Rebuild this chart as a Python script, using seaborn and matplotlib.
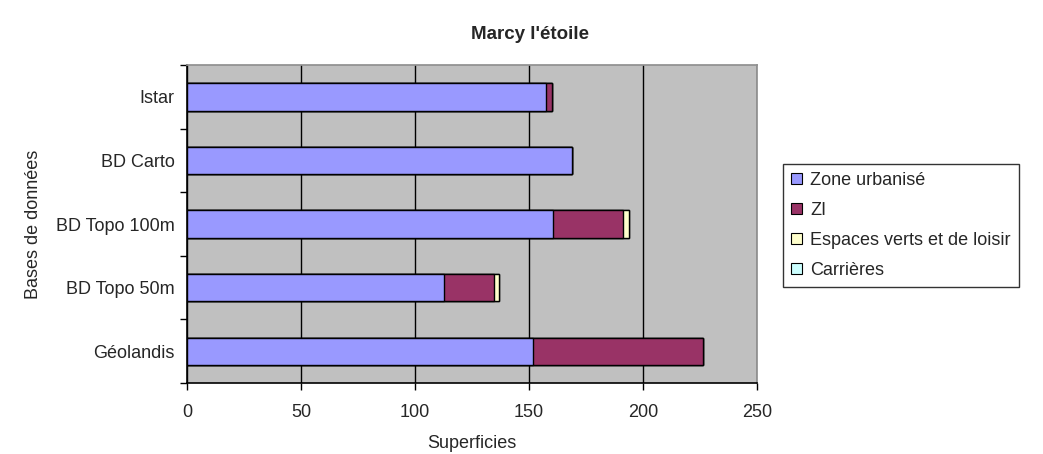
import matplotlib
matplotlib.use("Agg")
import matplotlib.pyplot as plt
import seaborn as sns
import pandas as pd
import numpy as np
from matplotlib.patches import Patch

categories = ["Istar", "BD Carto", "BD Topo 100m", "BD Topo 50m", "Géolandis"]
zone_urbanise = [157.4, 169.0, 160.6, 112.9, 151.8]
zi = [2.6, 0.0, 30.8, 21.9, 74.6]
espaces_verts = [0.0, 0.0, 2.5, 1.9, 0.0]
carrieres = [0.0, 0.0, 0.0, 0.0, 0.0]
series_names = ["Zone urbanisé", "ZI", "Espaces verts et de loisir", "Carrières"]
series_colors = ["#9999FF", "#993366", "#FFFFCC", "#CCFFFF"]
xticks = [0, 50, 100, 150, 200, 250]

sns.set_theme(style="white")
plt.rcParams['font.family'] = ['Liberation Sans', 'DejaVu Sans']
FS = 13

fig = plt.figure(figsize=(10.43, 4.54), dpi=100)
ax = fig.add_axes([0.1793, 0.1564, 0.5465, 0.700])

series = [zone_urbanise, zi, espaces_verts, carrieres]
cum = np.cumsum(np.array(series), axis=0)
df = pd.DataFrame({"cat": categories})
for i in range(len(series) - 1, -1, -1):
    df["v"] = cum[i]
    sns.barplot(data=df, x="v", y="cat", order=categories, orient="h",
                color=series_colors[i], saturation=1, width=0.43,
                edgecolor="black", linewidth=1.0, ax=ax, zorder=3)

ax.set_facecolor("#C0C0C0")
ax.set_xlim(0, 250)
ax.set_ylim(4.5, -0.5)
ax.set_xticks(xticks)
ax.set_xticklabels([str(t) for t in xticks], fontsize=FS)
ax.xaxis.grid(True, color="black", linewidth=1.0, zorder=0)
ax.yaxis.grid(False)
ax.set_axisbelow(True)
ax.tick_params(axis="x", direction="out", length=5, width=1, color="black", bottom=True, pad=10)
ax.tick_params(axis="y", which="major", length=0, labelsize=FS, pad=9)
ax.set_yticks(np.arange(-0.5, 5.0, 1.0), minor=True)
ax.tick_params(axis="y", which="minor", direction="out", length=5, width=1, color="black", left=True)

for s in ["left", "bottom"]:
    ax.spines[s].set_color("black")
    ax.spines[s].set_linewidth(1.2)
ax.spines["top"].set_color("#909090")
ax.spines["right"].set_color("#909090")

ax.set_xlabel("Superficies", fontsize=FS, labelpad=10)
ax.set_ylabel("Bases de données", fontsize=FS, labelpad=10)
fig.text(0.508, 0.925, "Marcy l'étoile", ha="center", va="center", fontsize=13.5, fontweight="bold")

handles = [Patch(facecolor=c, edgecolor="black", linewidth=0.8) for c in series_colors]
leg = fig.legend(handles, series_names, loc="upper left", bbox_to_anchor=(0.751, 0.639),
                 fontsize=FS, frameon=True, fancybox=False, handlelength=0.6, handleheight=0.6,
                 handletextpad=0.45, labelspacing=0.72, borderpad=0.45, borderaxespad=0)
leg.get_frame().set_edgecolor("black")
leg.get_frame().set_linewidth(1.0)

fig.savefig("out.png", dpi=100, facecolor="white")
